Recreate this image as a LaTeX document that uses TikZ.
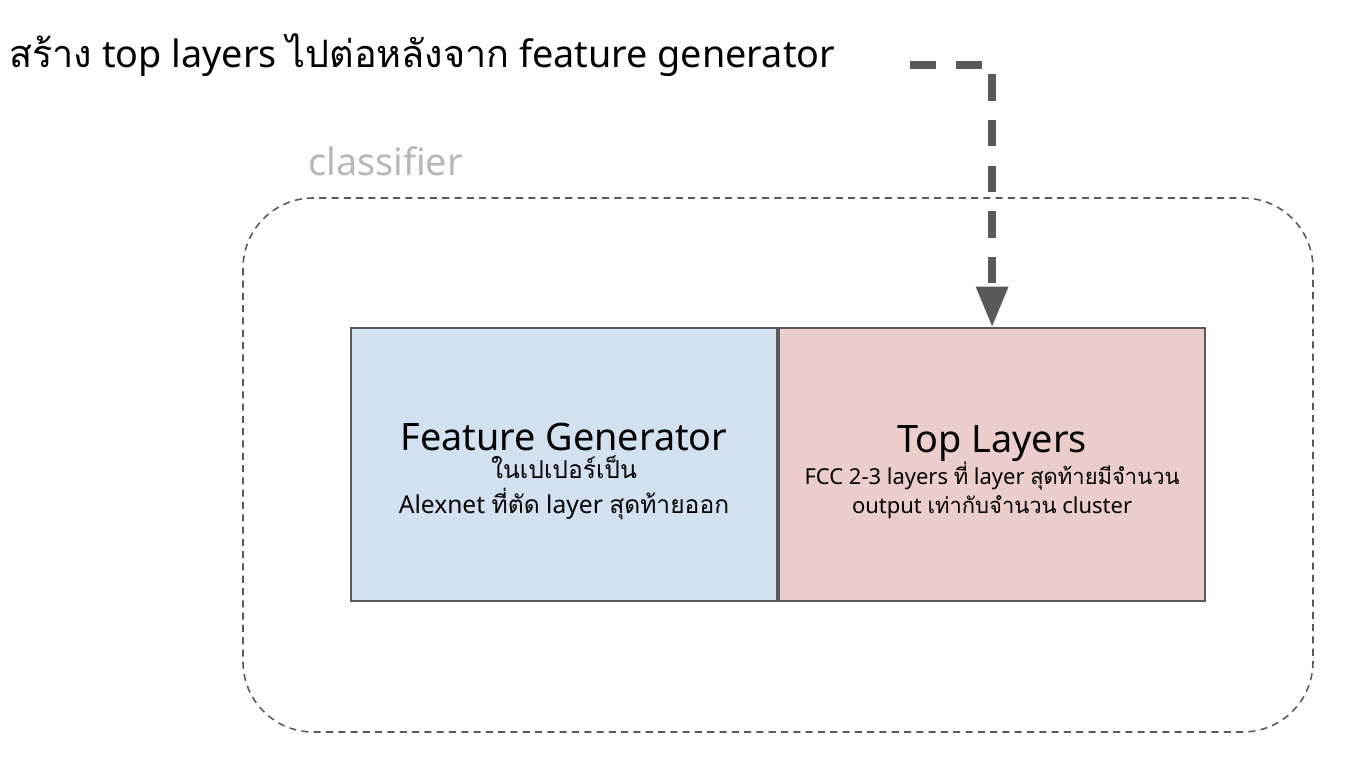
\documentclass[tikz,border=0pt]{standalone}
\usepackage{fontspec}
\setmainfont{Noto Sans}
\newfontfamily\thaifont[Script=Thai]{Loma}
\usetikzlibrary{arrows.meta, positioning}
\definecolor{linegray}{RGB}{89, 89, 89}
\definecolor{labelgray}{RGB}{183, 183, 183}
\definecolor{featblue}{RGB}{211, 224, 239}
\definecolor{toppink}{RGB}{235, 205, 203}
\tikzset{
    layerbox/.style={
        rectangle, minimum width=426*0.02cm, minimum height=273*0.02cm,
        draw=linegray, line width=1.2pt, inner sep=0pt
    },
    featbox/.style={layerbox, fill=featblue},
    topbox/.style={layerbox, fill=toppink},
    feattext/.style={align=center, font=\fontsize{14}{19.8}\selectfont},
    toptext/.style={align=center, font=\fontsize{12.5}{16.5}\selectfont},
    groupbox/.style={draw=linegray, line width=0.9pt, dash pattern=on 4pt off 3pt, rounded corners=40pt},
    bigarrow/.style={-{Triangle[length=23pt, width=17.5pt]}, line width=4.2pt, color=linegray, dash pattern=on 15pt off 11pt},
    headtext/.style={font=\fontsize{21.5}{26}\selectfont},
}
\newcommand{\boxhead}[1]{{\fontsize{21.5}{26}\selectfont #1}}
\begin{document}
\begin{tikzpicture}[x=0.02cm, y=-0.02cm]
    \useasboundingbox (0,0) rectangle (1350,760);

    \node[headtext, anchor=west] (title) at (3, 55)
        {{\thaifont สร้าง} top layers {\thaifont ไปต่อหลังจาก} feature generator};

    \draw[groupbox] (243,198) rectangle (1313,732);
    \node[headtext, text=labelgray, anchor=west] (grouplabel) at (302, 161) {classifier};

    \node[featbox] (feat) at (564, 464.5) {};
    \node[topbox, right=0pt of feat] (top) {};

    \node[feattext] (featlabel) at ([yshift=-4pt]feat.center) {%
        \boxhead{Feature Generator}\\[-4.3pt]
        {\thaifont ในเปเปอร์เป็น}\\
        Alexnet {\thaifont ที่ตัด} layer {\thaifont สุดท้ายออก}};
    \node[toptext] (toplabel) at ([yshift=-4.3pt]top.center) {%
        \boxhead{Top Layers}\\[-1pt]
        FCC 2-3 layers {\thaifont ที่} layer {\thaifont สุดท้ายมีจำนวน}\\
        output {\thaifont เท่ากับจำนวน} cluster};

    \coordinate (start) at (910, 65);
    \draw[bigarrow] (start) -| (top.north);
\end{tikzpicture}
\end{document}
